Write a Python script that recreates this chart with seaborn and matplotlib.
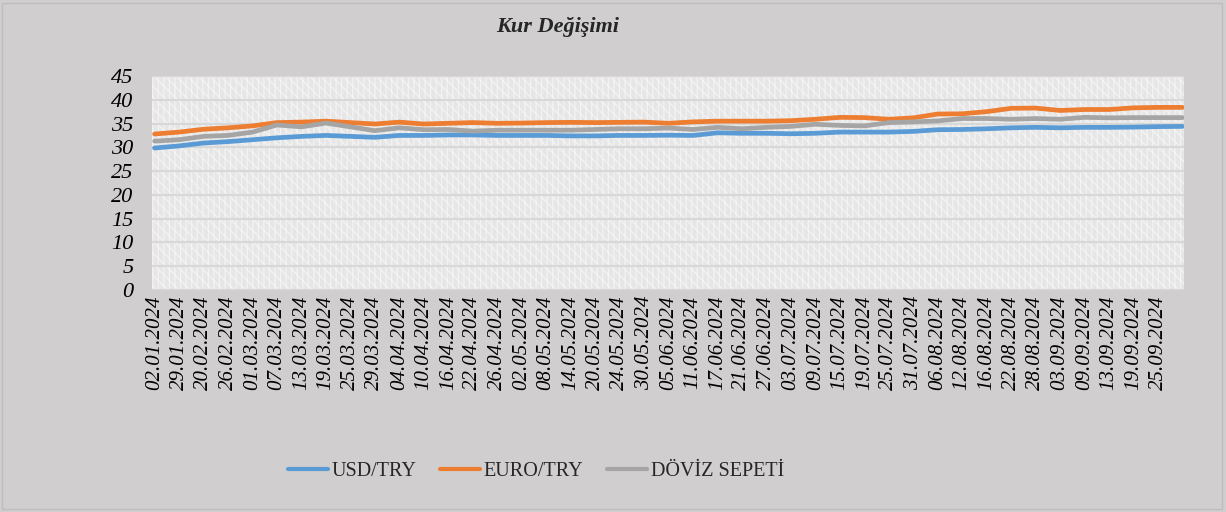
import pandas as pd
import matplotlib
matplotlib.use("Agg")
import matplotlib.pyplot as plt
from matplotlib.patches import Rectangle
import seaborn as sns

# Dates (one value read per tick label, plus the last day)
dates = ['02.01.2024', '29.01.2024', '20.02.2024', '26.02.2024', '01.03.2024', '07.03.2024',
         '13.03.2024', '19.03.2024', '25.03.2024', '29.03.2024', '04.04.2024', '10.04.2024',
         '16.04.2024', '22.04.2024', '26.04.2024', '02.05.2024', '08.05.2024', '14.05.2024',
         '20.05.2024', '24.05.2024', '30.05.2024', '05.06.2024', '11.06.2024', '17.06.2024',
         '21.06.2024', '27.06.2024', '03.07.2024', '09.07.2024', '15.07.2024', '19.07.2024',
         '25.07.2024', '31.07.2024', '06.08.2024', '12.08.2024', '16.08.2024', '22.08.2024',
         '28.08.2024', '03.09.2024', '09.09.2024', '13.09.2024', '19.09.2024', '25.09.2024',
         '30.09.2024']
tick_labels = dates[:-1]

usd = [29.85, 30.3, 30.9, 31.2, 31.6, 32.0, 32.3, 32.5, 32.3, 32.1, 32.5, 32.5,
       32.6, 32.6, 32.5, 32.5, 32.5, 32.4, 32.4, 32.5, 32.5, 32.55, 32.5, 33.05,
       32.95, 32.95, 32.85, 32.95, 33.2, 33.2, 33.2, 33.35, 33.7, 33.75, 33.9, 34.1,
       34.2, 34.1, 34.2, 34.2, 34.25, 34.35, 34.4]
eur = [32.8, 33.2, 33.8, 34.1, 34.5, 35.2, 35.3, 35.5, 35.2, 34.9, 35.3, 34.9,
       35.05, 35.2, 35.05, 35.1, 35.2, 35.25, 35.2, 35.25, 35.3, 35.05, 35.35, 35.5,
       35.5, 35.5, 35.6, 35.9, 36.3, 36.25, 35.9, 36.2, 37.0, 37.05, 37.5, 38.2,
       38.25, 37.75, 37.95, 37.95, 38.3, 38.4, 38.4]
basket = [31.3, 31.6, 32.3, 32.5, 33.2, 34.7, 34.3, 35.1, 34.3, 33.5, 34.1, 33.7,
          33.75, 33.4, 33.6, 33.6, 33.6, 33.6, 33.75, 33.9, 33.9, 34.05, 33.75, 34.2,
          33.9, 34.2, 34.4, 34.85, 34.6, 34.5, 35.2, 35.35, 35.55, 36.05, 36.05, 35.9,
          36.05, 35.9, 36.3, 36.2, 36.25, 36.25, 36.25]

series_names = ['USD/TRY', 'EURO/TRY', 'DÖVİZ SEPETİ']
colors = ['#5B9BD5', '#ED7D31', '#A5A5A5']

df = pd.DataFrame({'idx': range(len(dates)), 'Tarih': dates,
                   'USD/TRY': usd, 'EURO/TRY': eur, 'DÖVİZ SEPETİ': basket})
long_df = df.melt(id_vars=['idx', 'Tarih'], var_name='Seri', value_name='Kur')

sns.set_theme(style='white')
plt.rcParams['font.family'] = ['Liberation Serif', 'DejaVu Serif']
plt.rcParams['hatch.linewidth'] = 0.9

bg = '#D0CECF'
fig = plt.figure(figsize=(12.26, 5.12), dpi=100, facecolor=bg)
ax = fig.add_axes([0.1237, 0.4336, 0.8418, 0.4180])
ax.set_facecolor('#E6E6E6')

# Excel-like patterned plot area
ax.add_patch(Rectangle((0, 0), 1, 1, transform=ax.transAxes, facecolor='none',
                       edgecolor='#F3F3F3', hatch='\\\\\\|||', linewidth=0, zorder=0))

sns.lineplot(data=long_df, x='idx', y='Kur', hue='Seri', hue_order=series_names,
             palette=colors, linewidth=3.4, ax=ax, legend=False, zorder=3)

ax.set_ylim(0, 45)
ax.set_yticks(range(0, 50, 5))
ax.set_xlim(-0.12, 42.05)
ax.set_xticks(range(len(tick_labels)))
ax.set_xticklabels(tick_labels, rotation=90, fontstyle='italic', fontsize=15)
for t in ax.get_yticklabels():
    t.set_fontstyle('italic')
    t.set_fontsize(16)
ax.tick_params(axis='y', length=0, pad=13, colors='black')
ax.tick_params(axis='x', length=0, pad=4, colors='black')
ax.grid(axis='y', color='#D8D8D8', linewidth=1.6)
ax.grid(axis='x', visible=False)
ax.set_axisbelow(True)
for s in ax.spines.values():
    s.set_visible(False)
ax.set_xlabel('')
ax.set_ylabel('')

fig.text(0.4545, 0.948, 'Kur Değişimi', ha='center', va='center',
         fontsize=16, fontweight='bold', fontstyle='italic')

handles = [plt.Line2D([], [], color=c, linewidth=3) for c in colors]
fig.legend(handles, series_names, loc='center', bbox_to_anchor=(0.437, 0.08), ncol=3,
           frameon=False, fontsize=14.5, handlelength=2.0, handletextpad=0.15,
           columnspacing=1.2)

fig.add_artist(Rectangle((0.002, 0.005), 0.995, 0.99, transform=fig.transFigure,
                         facecolor='none', edgecolor='#BDBDBD', linewidth=1))

fig.savefig('out.png', dpi=100, facecolor=bg)
